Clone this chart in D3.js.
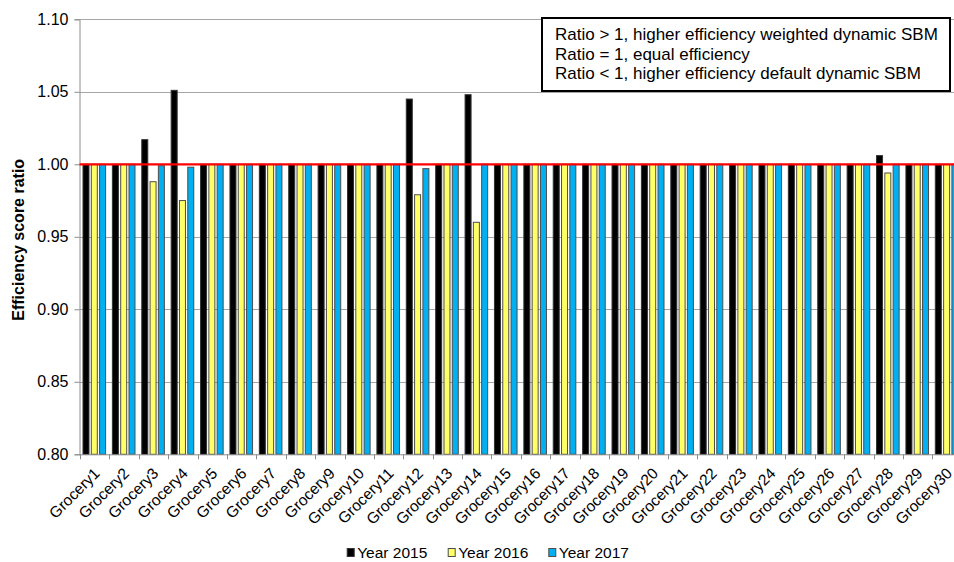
<!DOCTYPE html>
<html><head><meta charset="utf-8">
<script src="https://cdn.jsdelivr.net/npm/d3@7"></script>
<style>body{margin:0;background:#fff;overflow:hidden} svg{display:block} text{font-family:Arial,"Liberation Sans",sans-serif;fill:#000}</style>
</head><body><svg id="c" width="954" height="562"></svg>
<script>
const categories = ["Grocery1","Grocery2","Grocery3","Grocery4","Grocery5","Grocery6","Grocery7","Grocery8","Grocery9","Grocery10",
  "Grocery11","Grocery12","Grocery13","Grocery14","Grocery15","Grocery16","Grocery17","Grocery18","Grocery19","Grocery20",
  "Grocery21","Grocery22","Grocery23","Grocery24","Grocery25","Grocery26","Grocery27","Grocery28","Grocery29","Grocery30"];
const seriesNames = ["Year 2015","Year 2016","Year 2017"];
const values2015 = [1,1,1.017,1.051,1,1,1,1,1,1, 1,1.045,1,1.048,1,1,1,1,1,1, 1,1,1,1,1,1,1,1.006,1,1];
const values2016 = [1,1,0.988,0.975,1,1,1,1,1,1, 1,0.979,1,0.960,1,1,1,1,1,1, 1,1,1,1,1,1,1,0.994,1,1];
const values2017 = [1,1,0.999,0.998,1,1,1,1,1,1, 1,0.997,1,1,1,1,1,1,1,1, 1,1,1,1,1,1,1,1,1,1];
const yTicks = [0.80,0.85,0.90,0.95,1.00,1.05,1.10];
const refValue = 1.0;
const noteLines = ["Ratio > 1, higher efficiency weighted dynamic SBM","Ratio = 1, equal efficiency","Ratio < 1, higher efficiency default dynamic SBM"];
const yTitle = "Efficiency score ratio";
const seriesValues = [values2015, values2016, values2017];
const colors = ["#000000","#ffff66","#00b0f0"];
const strokes = ["#333333","#4d4d4d","#4d4d4d"];

const svg = d3.select("#c");
const L = 79.5, R = 961.7, T = 19.3, B = 454.3;
const x = d3.scaleBand().domain(categories).range([80, R]).paddingInner(0).paddingOuter(0);
const bw = x.bandwidth();
const xs = d3.scaleBand().domain(seriesNames).range([bw*0.102, bw*0.871]).paddingInner(0.277).paddingOuter(0);
const y = d3.scaleLinear().domain([0.8,1.1]).range([B,T]);

// gridlines
svg.append("g").selectAll("line").data(yTicks.slice(1)).join("line")
  .attr("x1",L).attr("x2",R).attr("y1",d=>Math.round(y(d))+0.5).attr("y2",d=>Math.round(y(d))+0.5)
  .attr("stroke","#a6a6a6").attr("stroke-width",1);

// bars
const data = [];
categories.forEach((c,i)=>seriesNames.forEach((s,j)=>data.push({c,s,j,v:seriesValues[j][i]})));
svg.append("g").selectAll("rect").data(data).join("rect")
  .attr("x",d=>x(d.c)+xs(d.s)).attr("width",xs.bandwidth())
  .attr("y",d=>y(d.v)).attr("height",d=>B-y(d.v))
  .attr("fill",d=>colors[d.j]).attr("stroke",d=>strokes[d.j]).attr("stroke-width",1);

// y axis
const yAxis = svg.append("g").attr("transform",`translate(${L},0)`)
  .call(d3.axisLeft(y).tickValues(yTicks).tickFormat(d3.format(".2f")).tickSize(5).tickPadding(6));
yAxis.select(".domain").attr("stroke","#8c8c8c");
yAxis.selectAll(".tick line").attr("stroke","#8c8c8c");
yAxis.selectAll("text").attr("font-size","16px").attr("font-family","Arial,'Liberation Sans',sans-serif").attr("fill","#000");

// x axis
svg.append("line").attr("x1",L).attr("x2",R).attr("y1",B+0.5).attr("y2",B+0.5).attr("stroke","#8c8c8c");
svg.append("g").selectAll("line").data(categories).join("line")
  .attr("x1",d=>Math.round(x(d))+0.5).attr("x2",d=>Math.round(x(d))+0.5)
  .attr("y1",B).attr("y2",B+5).attr("stroke","#8c8c8c");
svg.append("g").selectAll("text").data(categories).join("text")
  .attr("transform",d=>`translate(${x(d)+bw/2+6},${B+20}) rotate(-45)`)
  .attr("text-anchor","end").attr("font-size","15.5px").text(d=>d);

// reference line
svg.append("line").attr("x1",L).attr("x2",R).attr("y1",y(refValue)).attr("y2",y(refValue))
  .attr("stroke","#ff0000").attr("stroke-width",2.2);

// y title
svg.append("text").attr("transform",`translate(24,${(T+B)/2+3}) rotate(-90)`)
  .attr("text-anchor","middle").attr("font-size","16px").attr("font-weight","bold").text(yTitle);

// note box
svg.append("rect").attr("x",542).attr("y",18).attr("width",408).attr("height",73)
  .attr("fill","#fff").attr("stroke","#000").attr("stroke-width",2);
svg.append("g").selectAll("text").data(noteLines).join("text")
  .attr("x",555).attr("y",(d,i)=>40+i*19.5).attr("font-size","17px").text(d=>d);

// legend
const lg = svg.append("g");
const lx = [346.7,447.7,548.3];
seriesNames.forEach((s,j)=>{
  lg.append("rect").attr("x",lx[j]+0.5).attr("y",548.5).attr("width",7).attr("height",8)
    .attr("fill",colors[j]).attr("stroke",strokes[j]).attr("stroke-width",1);
  lg.append("text").attr("x",lx[j]+10.5).attr("y",557.5).attr("font-size","15.5px").text(s);
});
</script></body></html>
